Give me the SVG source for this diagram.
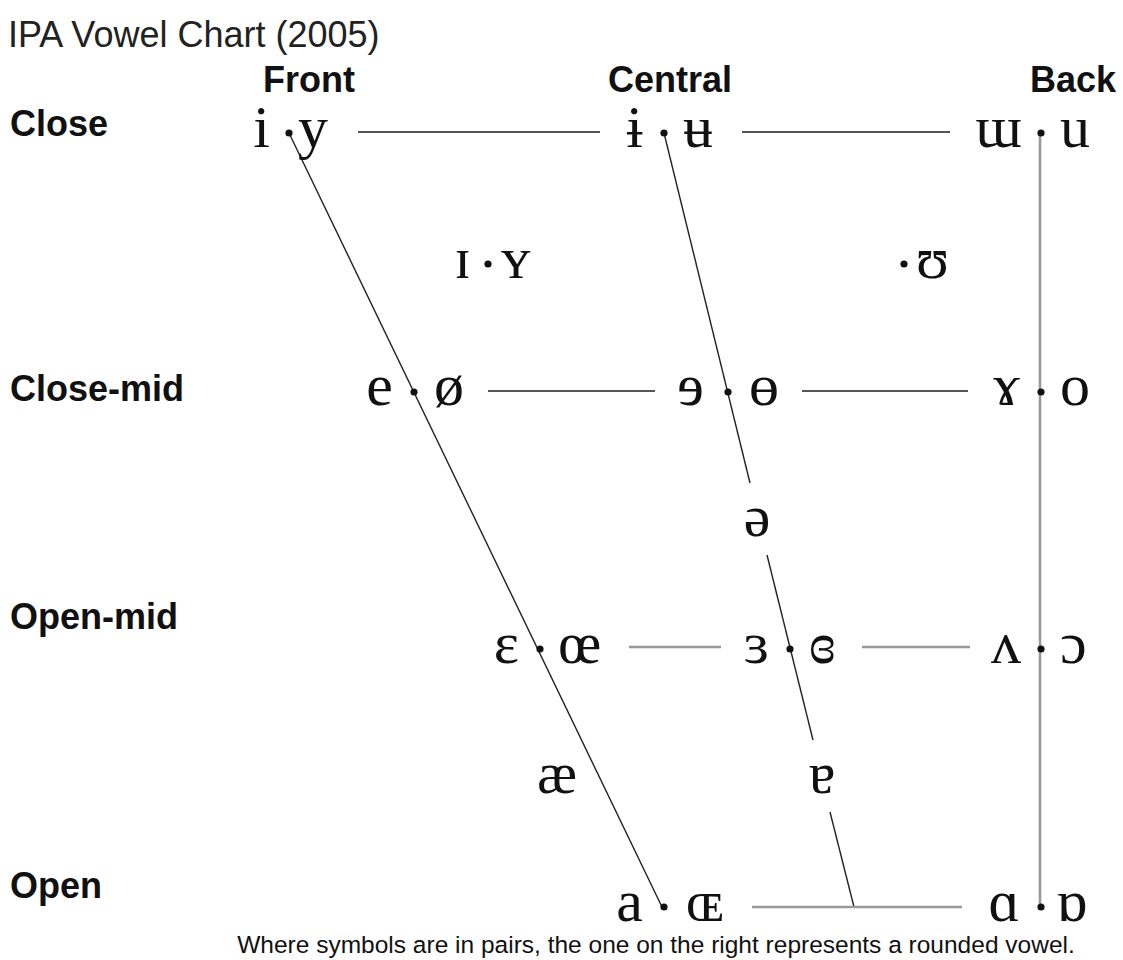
<svg xmlns="http://www.w3.org/2000/svg" width="1123" height="960" viewBox="0 0 1123 960">
<style>
.title{font-family:"Liberation Sans",Arial,sans-serif;font-size:36px;fill:#222}
.hdr{font-family:"Liberation Sans",Arial,sans-serif;font-size:36px;font-weight:bold;fill:#111}
.v{font-family:"Liberation Serif","DejaVu Serif",serif;font-size:60px;fill:#111}
.l{text-anchor:end}
.c{text-anchor:middle}
.cap{font-family:"Liberation Sans",Arial,sans-serif;font-size:24.5px;fill:#111;text-anchor:middle}
.dg{stroke:#222;stroke-width:1.4;fill:none}
.hz{stroke:#555;stroke-width:2;fill:none}
.hz2{stroke:#999;stroke-width:2.6;fill:none}
.dot{fill:#111}
</style>
<rect width="1123" height="960" fill="#fff"/>
<text class="title" x="8" y="47">IPA Vowel Chart (2005)</text>
<g id="headers">
<text class="hdr c" x="309" y="92">Front</text>
<text class="hdr c" x="670" y="92">Central</text>
<text class="hdr c" x="1073" y="92">Back</text>
</g>
<g id="rows">
<text class="hdr" x="10" y="136">Close</text>
<text class="hdr" x="10" y="401">Close-mid</text>
<text class="hdr" x="10" y="629">Open-mid</text>
<text class="hdr" x="10" y="898">Open</text>
</g>
<g id="connectors">
<line class="dg" x1="289" y1="133" x2="662" y2="907"/>
<line class="dg" x1="664" y1="133" x2="750" y2="483"/>
<line class="dg" x1="767" y1="555" x2="813" y2="740"/>
<line class="dg" x1="830" y1="812" x2="854" y2="907"/>
<line class="hz2" x1="1040" y1="133" x2="1040" y2="907"/>
<line class="hz" x1="358" y1="132" x2="600" y2="132"/>
<line class="hz" x1="742" y1="132" x2="950" y2="132"/>
<line class="hz" x1="488" y1="391" x2="655" y2="391"/>
<line class="hz" x1="802" y1="391" x2="968" y2="391"/>
<line class="hz2" x1="629" y1="647" x2="721" y2="647"/>
<line class="hz2" x1="862" y1="647" x2="970" y2="647"/>
<line class="hz2" x1="752" y1="907" x2="962" y2="907"/>
</g>
<g id="close-front"><text class="v l" x="270" y="147">i</text><circle class="dot" cx="289" cy="133" r="3.6"/><text class="v" x="298" y="147">y</text></g>
<g id="close-central"><text class="v l" x="643" y="147">ɨ</text><circle class="dot" cx="664" cy="133" r="3.6"/><text class="v" x="683" y="147">ʉ</text></g>
<g id="close-back"><text class="v l" x="1022" y="147">ɯ</text><circle class="dot" cx="1041" cy="133" r="3.6"/><text class="v" x="1060" y="147">u</text></g>
<g id="near-close-front"><text class="v l" x="471" y="278">ɪ</text><circle class="dot" cx="488" cy="264" r="3.6"/><text class="v" x="501" y="278">ʏ</text></g>
<g id="near-close-back"><circle class="dot" cx="904" cy="264" r="3.6"/><text class="v" x="916" y="278">ʊ</text></g>
<g id="close-mid-front"><text class="v l" x="393" y="405">e</text><circle class="dot" cx="414" cy="392" r="3.6"/><text class="v" x="434" y="405">ø</text></g>
<g id="close-mid-central"><text class="v l" x="704" y="405">ɘ</text><circle class="dot" cx="728" cy="392" r="3.6"/><text class="v" x="749" y="405">ɵ</text></g>
<g id="close-mid-back"><text class="v l" x="1020" y="405">ɤ</text><circle class="dot" cx="1041" cy="392" r="3.6"/><text class="v" x="1060" y="405">o</text></g>
<g id="mid-central"><text class="v c" x="757" y="536">ə</text></g>
<g id="open-mid-front"><text class="v l" x="519" y="663">ɛ</text><circle class="dot" cx="540" cy="649" r="3.6"/><text class="v" x="558" y="663">œ</text></g>
<g id="open-mid-central"><text class="v l" x="769" y="663">ɜ</text><circle class="dot" cx="790" cy="649" r="3.6"/><text class="v" x="809" y="663">ɞ</text></g>
<g id="open-mid-back"><text class="v l" x="1021" y="663">ʌ</text><circle class="dot" cx="1041" cy="649" r="3.6"/><text class="v" x="1060" y="663">ɔ</text></g>
<g id="near-open-front"><text class="v c" x="557" y="793">æ</text></g>
<g id="near-open-central"><text class="v c" x="822" y="793">ɐ</text></g>
<g id="open-front"><text class="v l" x="643" y="921">a</text><circle class="dot" cx="664" cy="907" r="3.6"/><text class="v" x="686" y="921">ɶ</text></g>
<g id="open-back"><text class="v l" x="1020" y="921">ɑ</text><circle class="dot" cx="1041" cy="907" r="3.6"/><text class="v" x="1056" y="921">ɒ</text></g>
<text class="cap" x="656" y="953">Where symbols are in pairs, the one on the right represents a rounded vowel.</text>
</svg>
